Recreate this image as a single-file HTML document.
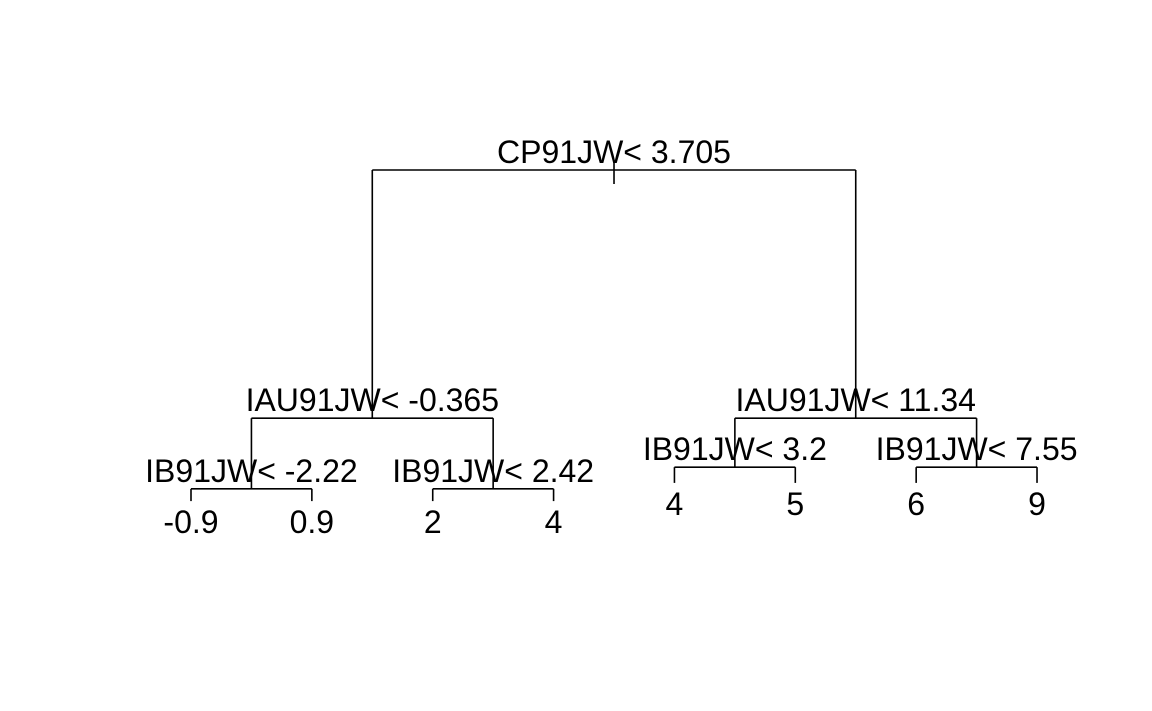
<!DOCTYPE html>
<html><head><meta charset="utf-8"><style>
html,body{margin:0;padding:0;background:#fff;}
svg{display:block;}
text{font-family:"Liberation Sans",Arial,sans-serif;font-size:32px;fill:#000;}
</style></head><body>
<svg id="chart" width="1152" height="711" viewBox="0 0 1152 711"></svg>
<script>
// Tree data: split labels, leaf values, node heights (deviance-like scale)
const splitLabels = ["CP91JW< 3.705","IAU91JW< -0.365","IB91JW< -2.22","IB91JW< 2.42","IAU91JW< 11.34","IB91JW< 3.2","IB91JW< 7.55"];
const splitHeights = [100, 29.1, 8.9, 8.9, 29.1, 15.1, 15.1];
const leafLabels = ["-0.9","0.9","2","4","4","5","6","9"];
const leafHeights = [5.4, 5.4, 5.4, 5.4, 10.6, 10.6, 10.6, 10.6];
// structure: node -> [left child, right child]; negative = leaf index (-(i+1))
const children = [[1,4],[2,3],[-1,-2],[-3,-4],[5,6],[-5,-6],[-7,-8]];

const svg = document.getElementById('chart');
const NS = "http://www.w3.org/2000/svg";
function xLeaf(i){ return 191 + i*120.86; }
function yScale(d){ return 170 + (100 - d)*3.5; }

function nodeX(n){
  if(n < 0) return xLeaf(-n-1);
  return (nodeX(children[n][0]) + nodeX(children[n][1]))/2;
}
function nodeY(n){ return n < 0 ? yScale(leafHeights[-n-1]) : yScale(splitHeights[n]); }

function line(x1,y1,x2,y2,name){
  const l=document.createElementNS(NS,'line');
  l.setAttribute('x1',x1);l.setAttribute('y1',y1);l.setAttribute('x2',x2);l.setAttribute('y2',y2);
  l.setAttribute('stroke','#000');l.setAttribute('stroke-width','1.6');
  
  
  svg.appendChild(l);
}
function label(x,y,t,name){
  const e=document.createElementNS(NS,'text');
  e.setAttribute('x',x);e.setAttribute('y',y);e.setAttribute('text-anchor','middle');
  e.textContent=t;
  
  
  svg.appendChild(e);
}

for(let n=0;n<children.length;n++){
  const x=nodeX(n), y=nodeY(n);
  const [a,b]=children[n];
  const xa=nodeX(a), xb=nodeX(b);
  line(xa,y,xb,y,'split-branch-'+n);
  line(xa,y,xa,nodeY(a),'branch-left-'+n);
  line(xb,y,xb,nodeY(b),'branch-right-'+n);
  label(x,y-7,splitLabels[n],'split-label-'+n);
}
// root stub
line(nodeX(0),yScale(splitHeights[0])-8,nodeX(0),yScale(splitHeights[0])+14,'root-stub');
for(let i=0;i<leafLabels.length;i++){
  label(xLeaf(i),yScale(leafHeights[i])+32,leafLabels[i],'leaf-label-'+i);
}
</script>
</body></html>
